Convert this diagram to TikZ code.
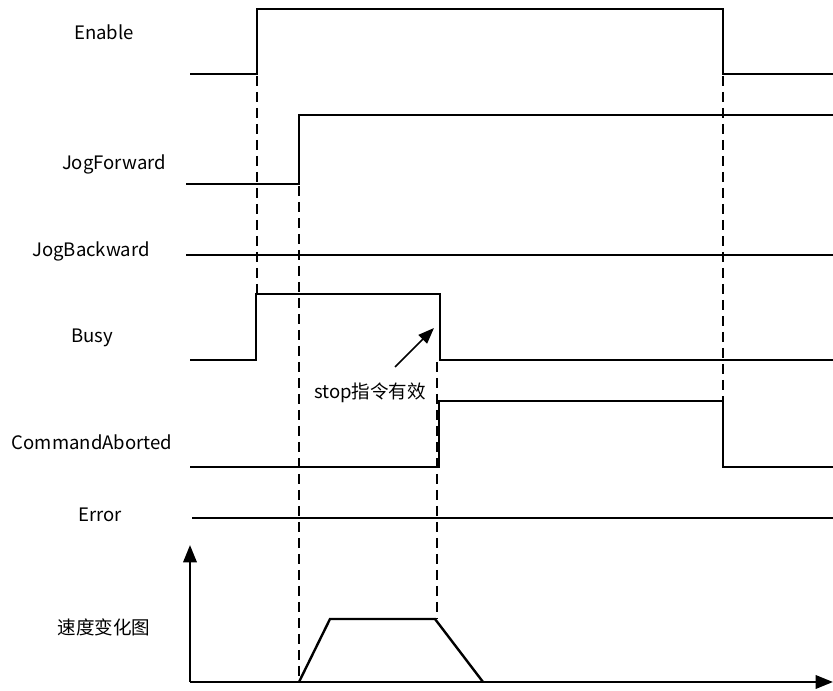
\documentclass[tikz,border=0pt]{standalone}
\usepackage{fontspec}
\setmainfont{Noto Sans CJK SC}
\usetikzlibrary{arrows.meta,positioning}
\definecolor{TDBlack}{HTML}{000000}
\definecolor{TDWhite}{HTML}{FFFFFF}
\begin{document}
\begin{tikzpicture}[x=0.75pt,y=-0.75pt,
    siglabel/.style={font=\fontsize{13.9}{16}\selectfont,text=TDBlack,inner sep=0pt},
    wave/.style={line width=1.8pt,draw=TDBlack,line join=miter},
    guide/.style={line width=0.9pt,draw=TDBlack,dash pattern=on 7.5pt off 4.5pt},
    axis/.style={line width=1.8pt,draw=TDBlack,-{Triangle[length=13pt,width=10pt]}}]
    \useasboundingbox[fill=TDWhite] (0,0) rectangle (833,691);

    % Signal names
    \node[siglabel] (lblEnable)  at (104,32)  {Enable};
    \node[siglabel] (lblJogFwd)  at (114,164) {JogForward};
    \node[siglabel] (lblJogBwd)  at (91,251)  {JogBackward};
    \node[siglabel] (lblBusy)    at (92,338)  {Busy};
    \node[siglabel] (lblAborted) at (92,442)  {CommandAborted};
    \node[siglabel] (lblError)   at (100,515) {Error};
    \node[siglabel] (lblSpeed)   at (104,627) {速度变化图};

    % Waveforms
    \draw[wave] (190,74) -- (257,74) -- (257,9) -- (723,9) -- (723,74) -- (833,74);
    \draw[wave] (186,184) -- (299,184) -- (299,115) -- (833,115);
    \draw[wave] (186,255) -- (833,255);
    \draw[wave] (190,360) -- (256,360) -- (256,294) -- (440,294) -- (440,360) -- (833,360);
    \draw[wave] (190,467) -- (439,467) -- (439,401) -- (723,401) -- (723,467) -- (833,467);
    \draw[wave] (192,518) -- (833,518);

    % Speed profile
    \coordinate (origin) at (190,682);
    \draw[axis] (origin) -- (190,545);
    \draw[axis] (origin) -- (833,682);
    \draw[wave] (299,682) -- (330,619) -- (435,619) -- (483,682);

    % Timing guides
    \draw[guide] (257,76) -- (257,294);
    \draw[guide] (299,186) -- (299,682);
    \draw[guide] (437,362) -- (437,619);
    \draw[guide] (723,76) -- (723,401);

    % Stop note
    \node[siglabel] (lblStop) at (370,393) {stop指令有效};
    \coordinate (stopTail) at (395,367);
    \coordinate (stopTip)  at (434,328);
    \draw[line width=1.3pt,-{Triangle[length=12pt,width=9pt]}] (stopTail) -- (stopTip);
\end{tikzpicture}
\end{document}
